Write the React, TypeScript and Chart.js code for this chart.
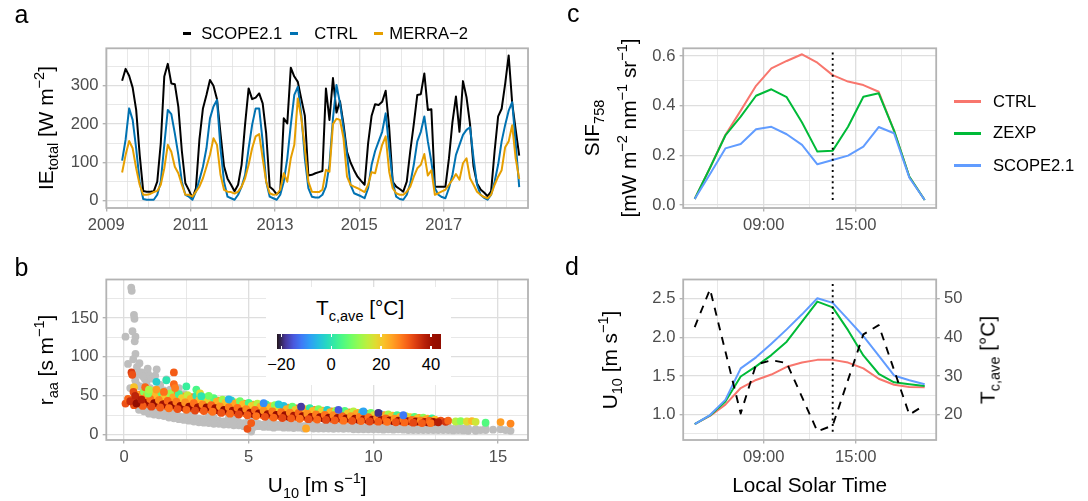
import React, { useEffect, useRef } from "react";
import { Chart, registerables } from "chart.js";
Chart.register(...registerables);

const FONT = "'Liberation Sans', Arial, Helvetica, sans-serif";
const GRID = "#dedede";
const FRAME = "#b3b3b3";
const TICKTXT = "#4d4d4d";

// ---------------- panel a : monthly IE_total, May 2009 .. Oct 2018 ----------------
const ieStartYear = 2009;
const ieStartMonth = 5;
const scopeIE = [
  313, 344, 326, 295, 237, 120, 26, 24,
  24, 25, 50, 150, 324, 357, 306, 304, 245, 130, 46, 28,
  7, 33, 160, 241, 276, 315, 300, 265, 175, 90, 58, 42,
  25, 42, 94, 200, 293, 265, 269, 280, 254, 175, 37, 29,
  17, 25, 215, 202, 347, 324, 310, 265, 222, 66, 68, 72,
  75, 78, 293, 211, 320, 230, 260, 200, 128, 100, 80, 63,
  52, 42, 150, 222, 252, 250, 258, 287, 190, 50, 37, 31,
  24, 50, 130, 200, 276, 278, 332, 237, 239, 37, 37, 37,
  37, 110, 205, 272, 180, 312, 270, 200, 90, 45, 30, 22,
  12, 25, 130, 220, 240, 305, 379, 255, 185, 118,
];
const ctrlIE = [
  105, 160, 241, 211, 137, 50, 5, 3,
  3, 3, 16, 50, 146, 237, 226, 176, 120, 50, 16, 11,
  3, 24, 55, 89, 137, 215, 246, 263, 137, 50, 11, 7,
  3, 16, 37, 68, 137, 198, 241, 241, 155, 50, 11, 7,
  3, 16, 50, 111, 198, 276, 297, 224, 111, 33, 11, 9,
  9, 16, 37, 94, 215, 302, 254, 189, 120, 42, 20, 16,
  12, 7, 33, 94, 130, 155, 180, 228, 137, 50, 11, 5,
  3, 16, 46, 94, 155, 180, 220, 155, 102, 33, 16, 10,
  7, 33, 68, 120, 146, 172, 185, 192, 111, 42, 16, 8,
  3, 16, 50, 94, 155, 198, 235, 257, 150, 36,
];
const merraIE = [
  74, 120, 156, 137, 85, 42, 16, 16,
  18, 23, 26, 42, 85, 146, 128, 89, 72, 42, 16, 16,
  11, 24, 37, 59, 89, 120, 163, 146, 68, 29, 24, 23,
  19, 24, 37, 59, 94, 137, 168, 174, 111, 50, 20, 16,
  17, 29, 72, 50, 111, 146, 267, 215, 137, 50, 24, 23,
  23, 29, 81, 76, 200, 214, 211, 163, 63, 42, 37, 33,
  28, 23, 42, 75, 72, 111, 146, 168, 76, 33, 20, 16,
  16, 24, 37, 63, 85, 94, 122, 66, 80, 16, 20, 25,
  29, 42, 55, 70, 55, 98, 111, 59, 42, 24, 16, 10,
  7, 16, 42, 63, 80, 140, 155, 197, 110, 57,
];
const yearLabels = [2009, 2011, 2013, 2015, 2017];

// ---------------- panel b : r_aa vs U10 ----------------
const grayPts: number[][] = [
  [0.29, 189], [0.31, 185], [0.4, 154], [0.42, 149], [0.34, 133], [0.46, 126], [0.06, 126], [0.43, 120],
  [0.46, 104], [0.37, 97], [0.16, 91], [0.52, 87], [0.62, 92], [0.7, 80], [0.97, 78], [1.31, 84],
  [0.83, 72], [0.45, 70], [0.75, 75], [1.1, 72], [1.7, 71], [1.25, 76], [0.55, 78], [0.9, 66],
  [1.45, 64], [1.05, 60], [1.85, 58], [2.1, 55], [0.65, 62], [1.6, 57], [2.4, 52], [0.25, 60],
  [0.8, 58], [1.2, 52], [0.35, 45], [0.6, 50], [1.4, 48], [0.95, 85], [0.5, 65], [2.2, 60],
  [0.6, 32], [0.6, 36], [1.0, 27], [1.0, 31], [1.0, 35], [1.4, 25], [1.4, 29], [1.8, 22], [1.8, 27],
  [1.8, 31], [2.2, 20], [2.2, 24], [2.6, 18], [2.6, 23], [2.6, 27], [3.0, 16], [3.0, 21], [3.4, 15],
  [3.4, 19], [3.4, 23], [3.8, 14], [3.8, 18], [4.2, 13], [4.2, 17], [4.2, 21], [4.6, 12], [4.6, 16],
  [5.0, 11], [5.0, 15], [5.0, 19], [5.1, 4], [5.4, 11], [5.4, 14], [5.8, 10], [5.8, 14], [5.8, 17],
  [6.2, 10], [6.2, 13], [6.6, 9], [6.6, 13], [6.6, 16], [7.0, 9], [7.0, 12], [7.4, 9], [7.4, 12],
  [7.4, 15], [7.8, 8], [7.8, 11], [8.2, 8], [8.2, 11], [8.2, 14], [8.6, 8], [8.6, 11], [9.0, 8],
  [9.0, 10], [9.0, 13], [9.4, 7], [9.4, 10], [9.8, 7], [9.8, 10], [9.8, 13], [10.2, 7], [10.2, 10],
  [10.6, 7], [10.6, 9], [10.6, 12], [11.0, 7], [11.0, 9], [11.4, 6], [11.4, 9], [11.4, 11], [11.8, 6],
  [11.8, 9], [12.2, 6], [12.2, 8], [12.2, 11], [12.6, 6], [12.6, 9], [13.0, 6], [13.0, 8], [13.0, 10],
  [13.4, 6], [13.4, 9], [13.8, 5], [13.8, 8], [14.1, 5], [14.1, 7], [14.5, 6], [14.5, 8], [15.1, 7], [15.5, 5],
  [0.8, 30], [0.8, 34], [1.2, 26], [1.2, 30], [1.2, 33], [1.6, 24], [1.6, 28], [2.0, 21], [2.0, 25], [2.0, 29],
  [2.4, 19], [2.4, 23], [2.8, 17], [2.8, 21], [2.8, 25], [3.2, 15.5], [3.2, 20], [3.6, 14], [3.6, 18], [3.6, 22],
  [4.0, 13], [4.0, 17], [4.4, 12], [4.4, 16], [4.4, 20], [4.8, 11], [4.8, 15], [5.2, 10], [5.2, 13], [5.2, 17],
  [5.6, 10], [5.6, 13], [6.0, 9], [6.0, 12], [6.0, 15], [6.4, 9], [6.4, 12], [6.8, 8.5], [6.8, 11], [6.8, 14],
  [7.2, 8], [7.2, 11], [7.6, 8], [7.6, 10.5], [7.6, 13], [8.0, 8], [8.0, 10], [8.4, 7.5], [8.4, 10], [8.4, 12.5],
  [8.8, 7.5], [8.8, 10], [9.2, 7], [9.2, 9], [9.2, 12], [9.6, 7], [9.6, 9.5], [10.0, 7], [10.0, 9], [10.0, 11.5],
  [10.4, 6.5], [10.4, 9], [10.8, 6.5], [10.8, 8.5], [10.8, 11], [11.2, 6.5], [11.2, 8.5], [11.6, 6], [11.6, 8],
  [11.6, 10], [12.0, 6], [12.0, 8], [12.4, 6], [12.4, 8], [12.4, 10], [12.8, 6], [12.8, 8], [13.2, 5.5],
  [13.2, 7.5], [13.6, 5.5], [13.6, 8], [14.3, 6], [14.8, 6.5], [15.3, 6],
];
// [U10, r_aa, Tc,ave]  (drawn in this order)
const colorPts: number[][] = [
  [0.625, 51.6, 27], [0.675, 47.1, 31], [0.565, 43.6, 31], [0.655, 39.4, 28],
  [0.975, 53.2, 24], [1.025, 47.9, 28], [0.915, 43.7, 41], [1.005, 38.8, 30],
  [1.325, 52.7, 28], [1.375, 47.2, 33], [1.265, 42.9, 30], [1.355, 37.8, 29],
  [1.675, 51.2, 20], [1.725, 45.9, 29], [1.615, 41.7, 42], [1.705, 36.8, 32],
  [2.025, 50.2, 27], [2.075, 44.9, 32], [1.965, 40.7, 32], [2.055, 35.8, 28],
  [2.375, 49.2, 25], [2.425, 43.9, 27], [2.315, 39.7, 29], [2.405, 34.8, 42],
  [2.725, 48.2, 28], [2.775, 42.9, 34], [2.665, 38.7, 31], [2.755, 33.8, 31],
  [3.075, 46.8, 22], [3.125, 41.7, 30], [3.015, 37.7, 43], [3.105, 32.9, 29],
  [3.425, 45.4, 27], [3.475, 40.5, 32], [3.365, 36.6, 32], [3.455, 32.1, 29],
  [3.775, 43.9, 25], [3.825, 39.1, 28], [3.715, 35.3, 30], [3.805, 30.8, 40],
  [4.125, 42.5, 28], [4.175, 37.7, 33], [4.065, 34, 31], [4.155, 29.5, 31],
  [4.475, 41.5, 19], [4.525, 36.7, 29], [4.415, 33, 42], [4.505, 28.5, 30],
  [4.825, 40, 27], [4.875, 35.4, 31], [4.765, 31.8, 32], [4.855, 27.5, 28],
  [5.175, 38.6, 24], [5.225, 34.1, 27], [5.115, 30.6, 29], [5.205, 26.4, 42],
  [5.525, 37.6, 28], [5.575, 33.1, 34], [5.465, 29.6, 31], [5.555, 25.4, 31],
  [5.875, 36.6, 21], [5.925, 32.1, 30], [5.815, 28.6, 41], [5.905, 24.4, 29],
  [6.225, 35.6, 26], [6.275, 31.2, 32], [6.165, 27.7, 32], [6.255, 23.6, 29],
  [6.575, 34.7, 25], [6.625, 30.4, 28], [6.515, 27, 30], [6.605, 23.1, 41],
  [6.925, 33.7, 28], [6.975, 29.6, 33], [6.865, 26.4, 31], [6.955, 22.5, 31],
  [7.275, 32.8, 18], [7.325, 28.8, 29], [7.215, 25.7, 42], [7.305, 22, 30],
  [7.625, 31.9, 27], [7.675, 28, 31], [7.565, 25, 32], [7.655, 21.4, 28],
  [7.975, 30.9, 23], [8.025, 27.2, 27], [7.915, 24.3, 29], [8.005, 20.8, 42],
  [8.325, 30, 28], [8.375, 26.4, 34], [8.265, 23.6, 31], [8.355, 20.3, 31],
  [8.675, 29.3, 20], [8.725, 25.8, 30], [8.615, 23, 41], [8.705, 19.8, 29],
  [9.025, 28.8, 27], [9.075, 25.3, 32], [8.965, 22.6, 32], [9.055, 19.4, 29],
  [9.375, 28.1, 24], [9.425, 24.8, 28], [9.315, 22.2, 30], [9.405, 19.1, 40],
  [9.725, 27.2, 28], [9.775, 24, 33], [9.665, 21.5, 31], [9.755, 18.6, 31],
  [10.075, 26.2, 17], [10.125, 23.3, 29], [10.015, 20.9, 42], [10.105, 18.2, 30],
  [10.425, 25.3, 27], [10.475, 22.6, 31], [10.365, 20.4, 32], [10.455, 17.8, 28],
  [10.775, 24.4, 22], [10.825, 21.8, 27], [10.715, 19.8, 29], [10.805, 17.4, 42],
  [11.125, 23.5, 28], [11.175, 21.1, 34], [11.065, 19.2, 31], [11.155, 16.9, 31],
  [11.475, 22.6, 19], [11.525, 20.4, 30], [11.415, 18.6, 41], [11.505, 16.6, 29],
  [11.825, 21.6, 26], [11.875, 19.6, 32], [11.765, 18, 32], [11.855, 16.1, 29],
  [12.175, 20.7, 24], [12.225, 18.9, 28], [12.115, 17.5, 30], [12.205, 15.8, 41],
  [0.45, 52, 22], [0.57, 48.5, 27], [0.35, 45, 30], [0.51, 41, 42], [0.4, 38, 32],
  [0.8, 55, 10], [0.92, 50.5, 24], [0.7, 46, 28], [0.86, 41, 41], [0.75, 37, 31],
  [1.15, 56, 14], [1.27, 51, 22], [1.05, 46, 29], [1.21, 40.5, 43], [1.1, 36, 33],
  [1.5, 54, 6], [1.62, 49, 21], [1.4, 44.5, 27], [1.56, 39, 40], [1.45, 35, 31],
  [1.85, 53, 12], [1.97, 48, 24], [1.75, 43.5, 30], [1.91, 38, 42], [1.8, 34, 29],
  [2.2, 52, 3], [2.32, 47, 20], [2.1, 42.5, 28], [2.26, 37, 41], [2.15, 33, 32],
  [2.55, 51, 15], [2.67, 46, 23], [2.45, 41.5, 26], [2.61, 36, 43], [2.5, 32, 30],
  [2.9, 50, 0], [3.02, 45, 22], [2.8, 40.5, 29], [2.96, 35, 40], [2.85, 31, 33],
  [3.25, 48, 9], [3.37, 43.5, 19], [3.15, 39, 27], [3.31, 35, 42], [3.2, 30.5, 31],
  [3.6, 47, 5], [3.72, 42.5, 23], [3.5, 38, 30], [3.66, 34, 41], [3.55, 29.5, 29],
  [3.95, 45, 12], [4.07, 41, 21], [3.85, 36.5, 26], [4.01, 32, 43], [3.9, 28, 32],
  [4.3, 44, -2], [4.42, 40, 24], [4.2, 35.5, 28], [4.36, 31, 40], [4.25, 27, 30],
  [4.65, 43, 8], [4.77, 39, 22], [4.55, 34.5, 29], [4.71, 30, 42], [4.6, 26, 33],
  [5.0, 41, 4], [5.12, 37, 20], [4.9, 33, 27], [5.06, 28.5, 41], [4.95, 25, 31],
  [5.35, 40, 14], [5.47, 36, 23], [5.25, 32, 30], [5.41, 27.5, 43], [5.3, 24, 29],
  [5.7, 39, 2], [5.82, 35, 22], [5.6, 31, 26], [5.76, 26.5, 40], [5.65, 23, 32],
  [6.05, 38, 10], [6.17, 34, 18], [5.95, 30, 28], [6.11, 25.5, 42], [6.0, 22, 30],
  [6.4, 37, -5], [6.52, 33, 23], [6.3, 29, 29], [6.46, 25, 41], [6.35, 21.5, 33],
  [6.75, 36, 7], [6.87, 32, 21], [6.65, 28.5, 27], [6.81, 24.5, 39], [6.7, 21, 31],
  [7.1, 35, 13], [7.22, 31.5, 24], [7.0, 28, 30], [7.16, 24, 42], [7.05, 20.5, 29],
  [7.45, 34, 1], [7.57, 30.5, 22], [7.35, 27, 26], [7.51, 23, 40], [7.4, 20, 32],
  [7.8, 33, 9], [7.92, 29.5, 19], [7.7, 26, 28], [7.86, 22.5, 41], [7.75, 19.5, 30],
  [8.15, 32, -3], [8.27, 29, 23], [8.05, 25.5, 29], [8.21, 22, 43], [8.1, 19, 33],
  [8.5, 31, 11], [8.62, 28, 22], [8.4, 25, 27], [8.56, 21.5, 40], [8.45, 18.5, 31],
  [8.85, 30.5, 5], [8.97, 27.5, 20], [8.75, 24, 30], [8.91, 21, 42], [8.8, 18, 29],
  [9.2, 30, 14], [9.32, 27, 24], [9.1, 24, 26], [9.26, 20.5, 41], [9.15, 17.8, 32],
  [9.55, 29, 0], [9.67, 26, 22], [9.45, 23, 28], [9.61, 20, 39], [9.5, 17.5, 30],
  [9.9, 28, 8], [10.02, 25, 18], [9.8, 22.5, 29], [9.96, 19.5, 42], [9.85, 17, 33],
  [10.25, 27, -8], [10.37, 24.5, 23], [10.15, 22, 27], [10.31, 19, 40], [10.2, 16.8, 31],
  [10.6, 26, 12], [10.72, 23.5, 21], [10.5, 21, 30], [10.66, 18.5, 43], [10.55, 16.5, 29],
  [10.95, 25, 3], [11.07, 23, 23], [10.85, 20.5, 26], [11.01, 18, 41], [10.9, 16, 32],
  [11.3, 24, 16], [11.42, 22, 19], [11.2, 20, 28], [11.36, 17.5, 40], [11.25, 15.8, 30],
  [11.65, 23, 6], [11.77, 21, 22], [11.55, 19, 29], [11.71, 17, 42], [11.6, 15.5, 33],
  [12.0, 22, 10], [12.12, 20, 24], [11.9, 18.5, 27], [12.06, 16.5, 39], [11.95, 15, 31],
  [12.35, 21, 2], [12.47, 19.5, 22], [12.25, 18, 30], [12.41, 16.5, 41], [12.3, 15, 29],
  [0.06, 40, 32], [0.16, 46, 30], [0.25, 43, 36], [0.3, 80, 34], [0.33, 77, 32], [0.4, 61, 21],
  [0.38, 55, 33], [0.45, 50, 37], [0.5, 40, 42], [0.85, 61, 30], [0.97, 53, 10], [1.0, 58, 13],
  [1.3, 68, -3], [1.7, 70, 0], [2.0, 80, 31], [2.0, 65, 30], [2.05, 60, 28], [2.5, 62, 2],
  [2.9, 58, 4], [3.05, 53, 18], [3.4, 50, 8], [4.95, 7.5, 32], [5.1, 15, 31], [7.3, 8, 24],
  [1.3, 58, 25], [1.6, 55, 29], [0.7, 45, 38],
  [7.1, 36, -18], [8.6, 32, -15], [10.2, 28, -19], [5.6, 40.5, -10], [4.2, 45.5, -6],
  [9.6, 30, -8], [11.2, 25, -12], [6.2, 39, -4], [3.1, 49.5, 0],
  [12.7, 18, 32], [12.6, 16, 38], [12.9, 16.5, 35], [13.0, 18, 30], [13.3, 17, 14], [13.5, 17.5, 10],
  [13.75, 17, 18], [13.95, 17.5, 22], [14.1, 16.5, 16], [14.5, 15.4, 5], [15.1, 16.3, 25], [15.5, 14.3, 27],
];
const tcRange = [-21.7, 44.1];
const tcLegendTicks = [-20, 0, 20, 40];

// ---------------- panels c, d : diurnal cycles ----------------
const hours = [4.5, 5.5, 6.5, 7.5, 8.5, 9.5, 10.5, 11.5, 12.5, 13.5, 14.5, 15.5, 16.5, 17.5, 18.5, 19.5];
const sifCTRL = [0.024, 0.15, 0.282, 0.38, 0.48, 0.55, 0.58, 0.607, 0.573, 0.523, 0.497, 0.483, 0.456, 0.3, 0.114, 0.02];
const sifZEXP = [0.024, 0.15, 0.28, 0.356, 0.44, 0.466, 0.434, 0.332, 0.215, 0.219, 0.315, 0.436, 0.45, 0.3, 0.114, 0.02];
const sifSCOPE = [0.024, 0.125, 0.228, 0.246, 0.305, 0.315, 0.285, 0.242, 0.164, 0.181, 0.199, 0.235, 0.314, 0.289, 0.11, 0.02];
const u10CTRL = [0.879, 0.985, 1.13, 1.345, 1.45, 1.52, 1.62, 1.675, 1.71, 1.71, 1.675, 1.6, 1.465, 1.388, 1.36, 1.356];
const u10ZEXP = [0.879, 0.99, 1.17, 1.495, 1.625, 1.772, 1.946, 2.206, 2.465, 2.39, 2.095, 1.767, 1.53, 1.42, 1.395, 1.37];
const u10SCOPE = [0.879, 0.995, 1.192, 1.6, 1.743, 1.92, 2.105, 2.3, 2.508, 2.448, 2.235, 2.016, 1.765, 1.508, 1.447, 1.395];
const tcHours = [4.5, 5.5, 7.5, 8.5, 9.5, 10.5, 12.5, 13.5, 15.5, 16.5, 18.5, 19.5];
const tcAve = [42.7, 52.5, 20.3, 33.0, 34.1, 33.4, 15.7, 17.2, 40.8, 43.2, 20.0, 22.5];
const overpassHour = 13.5;
const overpassC = [0.02, 0.62];
const overpassD = [0.78, 2.7];
const hourLabels: Record<number, string> = { 9: "09:00", 15: "15:00" };

const COLS = { ctrl: "#F8766D", zexp: "#00BA38", scope: "#619CFF" };

// ---------------- helpers ----------------
function turbo(t: number): string {
  t = Math.max(0, Math.min(1, t));
  const r = 0.13572138 + t * (4.6153926 + t * (-42.66032258 + t * (132.13108234 + t * (-152.94239396 + t * 59.28637943))));
  const g = 0.09140261 + t * (2.19418839 + t * (4.84296658 + t * (-14.18503333 + t * (4.27729857 + t * 2.82956604))));
  const b = 0.1066733 + t * (12.64194608 + t * (-60.58204836 + t * (110.36276771 + t * (-89.90310912 + t * 27.34824973))));
  const c = (v: number) => Math.round(Math.max(0, Math.min(1, v)) * 255);
  return `rgb(${c(r)},${c(g)},${c(b)})`;
}
const tColor = (T: number) => turbo((T - tcRange[0]) / (tcRange[1] - tcRange[0]));

const near = (a: number, b: number) => Math.abs(a - b) < 1e-6;
const range = (a: number, b: number, s: number) => {
  const out: number[] = [];
  for (let v = a; v <= b + 1e-9; v += s) out.push(Math.round(v * 1000) / 1000);
  return out;
};

function axis(o: any) {
  const isMajor = (v: number) => o.major.some((m: number) => near(m, v));
  return {
    type: "linear",
    position: o.position,
    min: o.min,
    max: o.max,
    afterBuildTicks: (s: any) => {
      s.ticks = o.grid.map((v: number) => ({ value: v }));
    },
    afterFit: (s: any) => {
      if (o.position === "bottom") s.height = o.size;
      else s.width = o.size;
    },
    border: { display: false },
    grid: {
      drawOnChartArea: o.onChart !== false,
      color: GRID,
      lineWidth: (c: any) => (c.tick && isMajor(c.tick.value) ? 1.35 : 0.7),
      drawTicks: true,
      tickLength: 3.6,
      tickWidth: 1.35,
      tickColor: (c: any) => (c.tick && isMajor(c.tick.value) ? FRAME : "rgba(0,0,0,0)"),
    },
    ticks: {
      autoSkip: false,
      maxRotation: 0,
      minRotation: 0,
      padding: 4.2,
      color: TICKTXT,
      font: { family: FONT, size: 16.6 },
      callback: (v: any) => (isMajor(Number(v)) ? o.label(Number(v)) : ""),
    },
  };
}

const framePlugin = {
  id: "frame",
  afterDatasetsDraw(chart: any) {
    const { ctx, chartArea: a } = chart;
    ctx.save();
    ctx.strokeStyle = FRAME;
    ctx.lineWidth = 1.8;
    ctx.strokeRect(a.left, a.top, a.right - a.left, a.bottom - a.top);
    ctx.restore();
  },
};

function baseOptions(padding: any, scales: any) {
  return {
    animation: false,
    responsive: false,
    events: [],
    layout: { padding, autoPadding: false },
    plugins: { legend: { display: false }, tooltip: { enabled: false } },
    scales,
  };
}

const line = (data: any[], color: string, order: number, extra: any = {}) => ({
  data,
  borderColor: color,
  backgroundColor: color,
  borderWidth: 2,
  pointRadius: 0,
  tension: 0,
  fill: false,
  borderJoinStyle: "round",
  order,
  ...extra,
});

const ieXY = (arr: number[]) =>
  arr.map((v, i) => ({ x: ieStartYear + (ieStartMonth - 1 + i + 0.5) / 12, y: v }));
const hourXY = (hs: number[], arr: number[]) => arr.map((v, i) => ({ x: hs[i], y: v }));

function configA() {
  return {
    type: "line",
    data: {
      datasets: [
        line(ieXY(scopeIE), "#000000", 3),
        line(ieXY(ctrlIE), "#0072B2", 2),
        line(ieXY(merraIE), "#E69F00", 1),
      ],
    },
    options: baseOptions(
      { left: 0, top: 48.3, right: 12, bottom: 0 },
      {
        x: axis({
          position: "bottom", min: 2009, max: 2019, size: 42,
          grid: range(2009, 2019, 0.5), major: yearLabels, label: (v: number) => String(Math.round(v)),
        }),
        y: axis({
          position: "left", min: -18.5, max: 397.5, size: 106.3,
          grid: range(0, 350, 50), major: [0, 100, 200, 300], label: (v: number) => String(v),
        }),
      }
    ),
    plugins: [framePlugin],
  };
}

function configB() {
  return {
    type: "scatter",
    data: {
      datasets: [
        {
          data: colorPts.map((p) => ({ x: p[0], y: p[1] })),
          pointBackgroundColor: colorPts.map((p) => tColor(p[2])),
          pointBorderWidth: 0,
          pointBorderColor: "rgba(0,0,0,0)",
          pointRadius: 3.9,
          order: 1,
        },
        {
          data: grayPts.map((p) => ({ x: p[0], y: p[1] })),
          pointBackgroundColor: "#bebebe",
          pointBorderWidth: 0,
          pointBorderColor: "rgba(0,0,0,0)",
          pointRadius: 3.9,
          order: 2,
        },
      ],
    },
    options: baseOptions(
      { left: 0, top: 29.5, right: 12, bottom: 0 },
      {
        x: axis({
          position: "bottom", min: -0.71, max: 16.2, size: 61,
          grid: range(0, 15, 2.5), major: [0, 5, 10, 15], label: (v: number) => String(v),
        }),
        y: axis({
          position: "left", min: -6.8, max: 199.5, size: 106.3,
          grid: range(0, 175, 25), major: [0, 50, 100, 150], label: (v: number) => String(v),
        }),
      }
    ),
    plugins: [framePlugin],
  };
}

const hourAxis = (size: number) =>
  axis({
    position: "bottom", min: 3.75, max: 20.25, size,
    grid: [6, 9, 12, 15, 18], major: [9, 15], label: (v: number) => hourLabels[Math.round(v)] || "",
  });

function configC() {
  return {
    type: "line",
    data: {
      datasets: [
        line(hourXY(hours, sifCTRL), COLS.ctrl, 3),
        line(hourXY(hours, sifZEXP), COLS.zexp, 2),
        line(hourXY(hours, sifSCOPE), COLS.scope, 1),
        line(
          [{ x: overpassHour, y: overpassC[0] }, { x: overpassHour, y: overpassC[1] }],
          "#000000", 0, { borderDash: [2, 3.6], borderWidth: 1.9, borderCapStyle: "butt" }
        ),
      ],
    },
    options: baseOptions(
      { left: 0, top: 48.3, right: 151.8, bottom: 0 },
      {
        x: hourAxis(42),
        y: axis({
          position: "left", min: -0.012, max: 0.631, size: 143.2,
          grid: range(0, 0.6, 0.1), major: [0, 0.2, 0.4, 0.6], label: (v: number) => v.toFixed(1),
        }),
      }
    ),
    plugins: [framePlugin],
  };
}

function configD() {
  return {
    type: "line",
    data: {
      datasets: [
        line(hourXY(hours, u10CTRL), COLS.ctrl, 4),
        line(hourXY(hours, u10ZEXP), COLS.zexp, 3),
        line(hourXY(hours, u10SCOPE), COLS.scope, 2),
        line(hourXY(tcHours, tcAve), "#000000", 1, { yAxisID: "y2", borderDash: [8, 7], borderWidth: 1.9, borderCapStyle: "butt" }),
        line(
          [{ x: overpassHour, y: overpassD[0] }, { x: overpassHour, y: overpassD[1] }],
          "#000000", 0, { borderDash: [2, 3.6], borderWidth: 1.9, borderCapStyle: "butt" }
        ),
      ],
    },
    options: baseOptions(
      { left: 0, top: 29.5, right: 111.8, bottom: 0 },
      {
        x: hourAxis(61),
        y: axis({
          position: "left", min: 0.672, max: 2.751, size: 143.2,
          grid: range(0.75, 2.5, 0.25), major: [1, 1.5, 2, 2.5], label: (v: number) => v.toFixed(1),
        }),
        y2: axis({
          position: "right", min: 13.44, max: 55.02, size: 40, onChart: false,
          grid: [20, 30, 40, 50], major: [20, 30, 40, 50], label: (v: number) => String(v),
        }),
      }
    ),
    plugins: [framePlugin],
  };
}

// ---------------- components ----------------
function ChartBox({ left, top, width, height, make }: any) {
  const ref = useRef<HTMLCanvasElement | null>(null);
  useEffect(() => {
    if (!ref.current) return;
    const chart = new Chart(ref.current, make() as any);
    return () => chart.destroy();
  }, []);
  return (
    <canvas
      ref={ref}
      width={width}
      height={height}
      style={{ position: "absolute", left, top, width, height }}
    />
  );
}

const Sub = ({ children }: any) => (
  <span style={{ fontSize: "0.7em", position: "relative", top: "0.36em", lineHeight: 0 }}>{children}</span>
);
const Sup = ({ children }: any) => (
  <span style={{ fontSize: "0.7em", position: "relative", top: "-0.62em", lineHeight: 0 }}>{children}</span>
);

function Label({ x, y, size = 16.6, anchor = "start", color = "#000", children }: any) {
  const tx = anchor === "middle" ? "-50%" : anchor === "end" ? "-100%" : "0";
  return (
    <div
      style={{
        position: "absolute", left: x, top: y - 0.8465 * size, fontSize: size, lineHeight: `${size}px`,
        color, whiteSpace: "nowrap", transform: `translateX(${tx})`, fontFamily: FONT,
      }}
    >
      {children}
    </div>
  );
}

function VLabel({ cx, cy, size = 20.8, children }: any) {
  return (
    <div
      style={{
        position: "absolute", left: cx, top: cy, transform: "translate(-50%,-50%) rotate(-90deg)",
        fontSize: size, lineHeight: `${size}px`, whiteSpace: "nowrap", fontFamily: FONT, color: "#000",
      }}
    >
      {children}
    </div>
  );
}

const Key = ({ x, y, w, h, color }: any) => (
  <div style={{ position: "absolute", left: x, top: y - h / 2, width: w, height: h, background: color }} />
);

export default function App() {
  const barL = 277, barW = 164.3, barT = 334, barH = 15;
  const stops = range(0, 1, 0.05).map((t) => `${turbo(t)} ${(t * 100).toFixed(0)}%`).join(",");
  const tickX = (T: number) => barL + ((T - tcRange[0]) / (tcRange[1] - tcRange[0])) * barW;
  return (
    <div
      style={{
        position: "absolute", left: 0, top: 0, width: 1088, height: 501, background: "#fff",
        overflow: "hidden", fontFamily: FONT,
      }}
    >
      <ChartBox left={0} top={0} width={540} height={250} make={configA} />
      <ChartBox left={0} top={250} width={540} height={251} make={configB} />
      <ChartBox left={540} top={0} width={548} height={250} make={configC} />
      <ChartBox left={540} top={250} width={548} height={251} make={configD} />

      {/* panel tags */}
      <Label x={14.5} y={23} size={25}>a</Label>
      <Label x={14.5} y={276} size={25}>b</Label>
      <Label x={567} y={22} size={25}>c</Label>
      <Label x={565} y={275} size={25}>d</Label>

      {/* legend a */}
      <Key x={182.8} y={33.3} w={8.6} h={3} color="#000000" />
      <Label x={201.2} y={40}>SCOPE2.1</Label>
      <Key x={289.7} y={33.3} w={8.6} h={3} color="#0072B2" />
      <Label x={314.3} y={40}>CTRL</Label>
      <Key x={374} y={33.3} w={8.6} h={3} color="#E69F00" />
      <Label x={389.2} y={40}>MERRA{"\u2212"}2</Label>

      {/* axis titles */}
      <VLabel cx={46} cy={128.2}>IE<Sub>total</Sub> [W m<Sup>{"\u2212"}2</Sup>]</VLabel>
      <VLabel cx={46} cy={359.7}>r<Sub>aa</Sub> [s m<Sup>{"\u2212"}1</Sup>]</VLabel>
      <Label x={317.2} y={493} size={20.8} anchor="middle">U<Sub>10</Sub> [m s<Sup>{"\u2212"}1</Sup>]</Label>
      <VLabel cx={591.6} cy={128.2}>SIF<Sub>758</Sub></VLabel>
      <VLabel cx={629} cy={128.2}>[mW m<Sup>{"\u2212"}2</Sup> nm<Sup>{"\u2212"}1</Sup> sr<Sup>{"\u2212"}1</Sup>]</VLabel>
      <VLabel cx={610} cy={359.7}>U<Sub>10</Sub> [m s<Sup>{"\u2212"}1</Sup>]</VLabel>
      <VLabel cx={987.5} cy={359.7}>T<Sub>c,ave</Sub> [°C]</VLabel>
      <Label x={809.7} y={493} size={20.8} anchor="middle">Local Solar Time</Label>

      {/* legend c */}
      <Key x={953.6} y={101.7} w={27} h={3} color={COLS.ctrl} />
      <Label x={993} y={107.6}>CTRL</Label>
      <Key x={953.6} y={133.3} w={27} h={3} color={COLS.zexp} />
      <Label x={993} y={139.2}>ZEXP</Label>
      <Key x={953.6} y={165.7} w={27} h={3} color={COLS.scope} />
      <Label x={993} y={171.6}>SCOPE2.1</Label>

      {/* colour bar legend inside b */}
      <div style={{ position: "absolute", left: 266, top: 287, width: 185, height: 98, background: "#fff" }} />
      <Label x={316} y={316} size={20.8}>T<Sub>c,ave</Sub> [°C]</Label>
      <div
        style={{
          position: "absolute", left: barL, top: barT, width: barW, height: barH,
          background: `linear-gradient(to right, ${stops})`,
        }}
      />
      {tcLegendTicks.map((T) => (
        <React.Fragment key={T}>
          <div style={{ position: "absolute", left: tickX(T) - 0.65, top: barT, width: 1.3, height: 3, background: "#fff" }} />
          <div style={{ position: "absolute", left: tickX(T) - 0.65, top: barT + barH - 3, width: 1.3, height: 3, background: "#fff" }} />
          <Label x={tickX(T)} y={370.7} anchor="middle">{T < 0 ? "\u2212" + Math.abs(T) : String(T)}</Label>
        </React.Fragment>
      ))}
    </div>
  );
}
